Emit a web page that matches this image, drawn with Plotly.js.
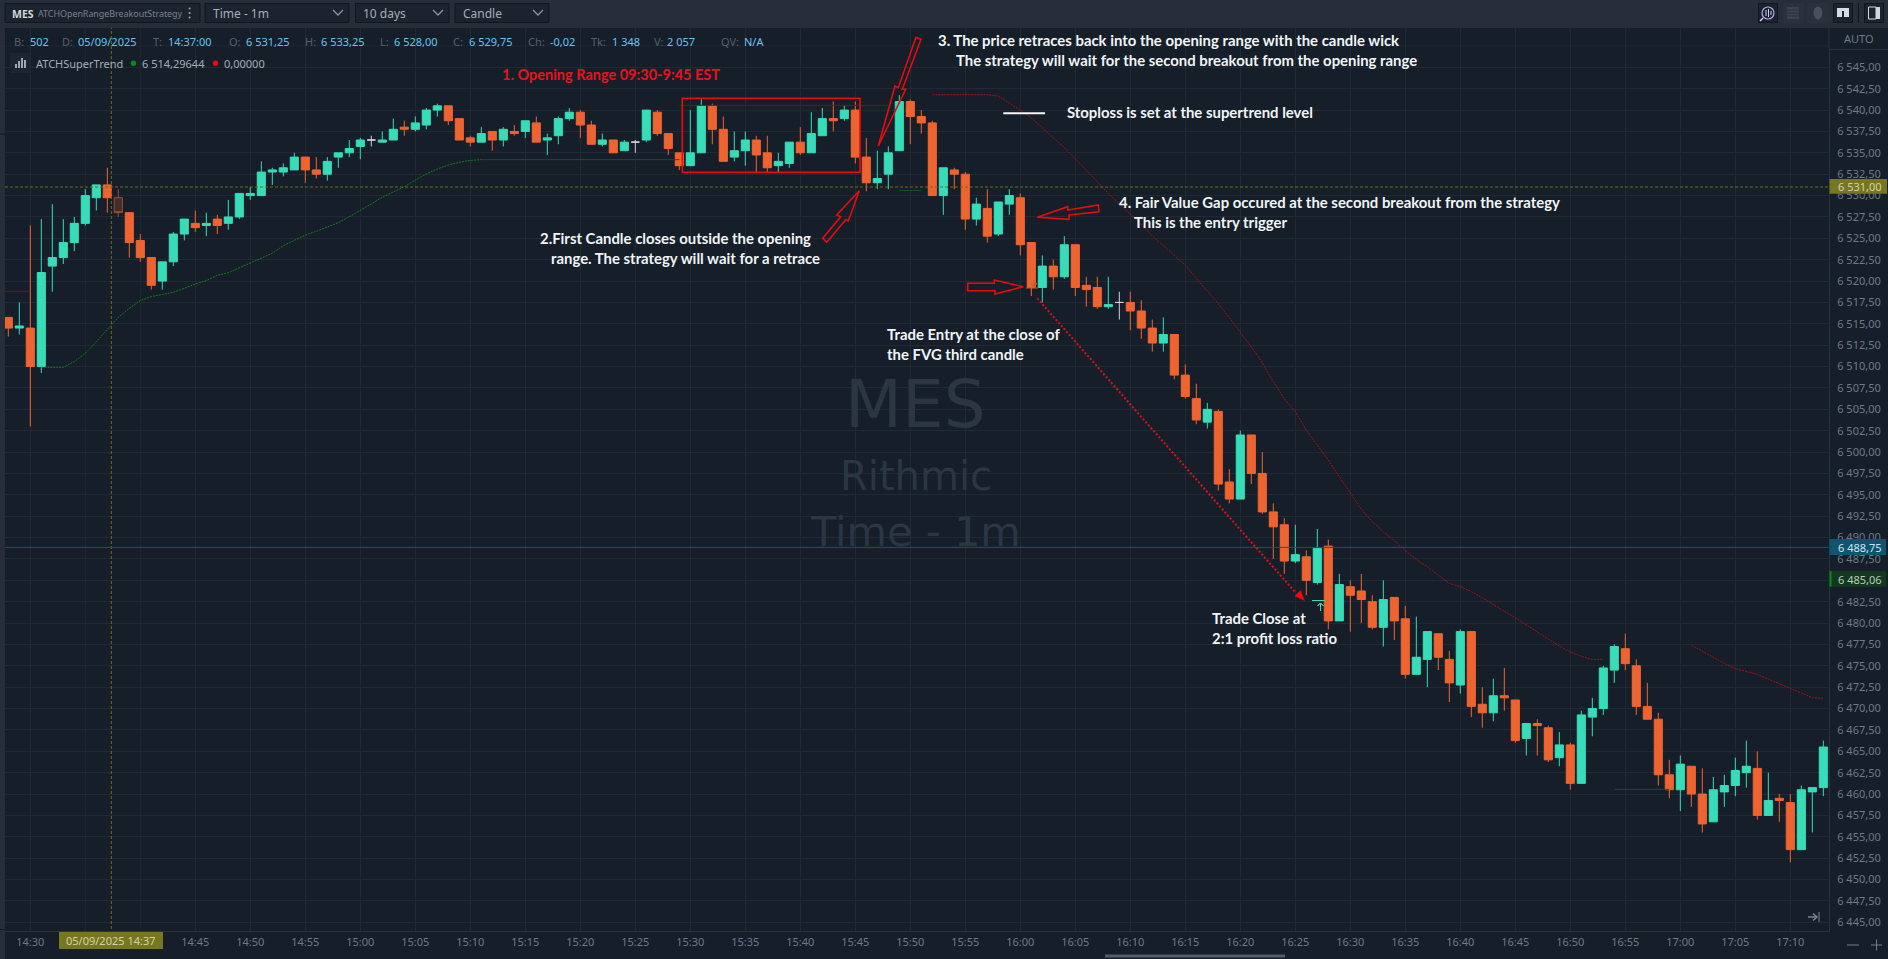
<!DOCTYPE html>
<html>
<head>
<meta charset="utf-8">
<title>MES ATCHOpenRangeBreakoutStrategy</title>
<script src="https://cdn.plot.ly/plotly-3.0.1.min.js"></script>
<style>html,body{margin:0;padding:0;background:#151e29;overflow:hidden}#chart{width:1888px;height:959px}</style>
</head>
<body>
<div id="chart"></div>
<script>
const sessionDate = '2025-05-09';
const candleTimes = ['14:28','14:29','14:30','14:31','14:32','14:33','14:34','14:35','14:36','14:37','14:38','14:39','14:40','14:41','14:42','14:43','14:44','14:45','14:46','14:47','14:48','14:49','14:50','14:51','14:52','14:53','14:54','14:55','14:56','14:57','14:58','14:59','15:00','15:01','15:02','15:03','15:04','15:05','15:06','15:07','15:08','15:09','15:10','15:11','15:12','15:13','15:14','15:15','15:16','15:17','15:18','15:19','15:20','15:21','15:22','15:23','15:24','15:25','15:26','15:27','15:28','15:29','15:30','15:31','15:32','15:33','15:34','15:35','15:36','15:37','15:38','15:39','15:40','15:41','15:42','15:43','15:44','15:45','15:46','15:47','15:48','15:49','15:50','15:51','15:52','15:53','15:54','15:55','15:56','15:57','15:58','15:59','16:00','16:01','16:02','16:03','16:04','16:05','16:06','16:07','16:08','16:09','16:10','16:11','16:12','16:13','16:14','16:15','16:16','16:17','16:18','16:19','16:20','16:21','16:22','16:23','16:24','16:25','16:26','16:27','16:28','16:29','16:30','16:31','16:32','16:33','16:34','16:35','16:36','16:37','16:38','16:39','16:40','16:41','16:42','16:43','16:44','16:45','16:46','16:47','16:48','16:49','16:50','16:51','16:52','16:53','16:54','16:55','16:56','16:57','16:58','16:59','17:00','17:01','17:02','17:03','17:04','17:05','17:06','17:07','17:08','17:09','17:10','17:11','17:12','17:13'];
const opens = [6515.75,6514.5,6514.5,6510,6521.75,6522.75,6524.5,6526.75,6529.75,6531.25,6529.75,6528,6524.75,6522.75,6520,6522.25,6525.5,6526.75,6526.5,6527.25,6526.75,6527.5,6530,6530,6532.75,6532.75,6533,6534.5,6533,6532.5,6534.5,6535,6535.75,6536.5,6536.25,6536.5,6538,6537.75,6538.25,6540,6540.5,6539,6536.75,6536.25,6537.5,6536.5,6537.5,6537.5,6538.5,6536.5,6537,6539,6539.75,6538.25,6536,6536.5,6535.25,6536.25,6536.5,6539.75,6537.25,6535,6533.5,6535,6540.5,6537.75,6534.5,6535.25,6536.5,6535,6533.5,6533.75,6536.25,6535,6537,6539,6539,6540,6534.5,6531.5,6532.5,6535.25,6541,6539.25,6538.5,6530,6533,6532.5,6527.25,6528.5,6525.5,6529,6529.75,6524.5,6519.25,6521.75,6520.5,6524.25,6519.5,6519.25,6517,6517.5,6517.5,6516.5,6514.5,6512.75,6513.75,6509,6506.25,6503.5,6504.75,6496.5,6494.5,6502,6497.5,6493,6491.5,6487.25,6487.75,6484.75,6489,6480.25,6484.25,6483.75,6482.5,6479.5,6483,6480.5,6474,6475.75,6478.75,6475.75,6472.75,6479,6470.5,6469.5,6471.5,6471,6466.5,6468.25,6467.75,6464.25,6465.75,6461.25,6469,6470,6474.5,6477,6475,6470.25,6468.75,6462.25,6460.5,6463.25,6460,6456.75,6460.25,6461,6462.5,6463,6457.5,6459.5,6459,6453.5,6460.25,6460.75];
const highs = [6515.75,6517.5,6526.5,6527.25,6529,6527.25,6527.5,6530.75,6531.25,6533.25,6530.75,6528,6525.5,6522.75,6522.25,6525.75,6527.25,6528.25,6528,6527.75,6529.5,6530.25,6531,6534,6533.25,6533.75,6535,6534.5,6534.5,6534.5,6535,6536.5,6536.75,6537,6537.5,6539,6538.75,6539.25,6540.25,6540.75,6540.5,6539,6537,6538,6537.5,6538,6538.25,6538.75,6539.25,6537.25,6539.25,6540.25,6540,6538.75,6537.25,6536.5,6536.5,6536.5,6540,6540,6537.25,6535,6540,6541.25,6540.75,6539.25,6537.5,6537.5,6537,6537,6535,6536.25,6538,6539.75,6540.25,6541,6540.5,6541,6536.75,6535.25,6535.75,6541.75,6541.25,6540,6538.75,6533.25,6533.25,6532.75,6529.75,6530.75,6529.25,6530.75,6530.25,6524.5,6523,6522.5,6525.25,6524.25,6520.5,6520.5,6520.5,6518.75,6518.75,6517.75,6515.5,6515.75,6513.75,6510.25,6508,6505.75,6505,6498,6502.5,6502,6500,6494,6492.25,6491.5,6488.5,6491,6489.75,6485.75,6485,6485.75,6483.25,6485,6483,6482,6480.75,6479,6478.75,6476.75,6479.25,6479,6472.5,6473.5,6474.75,6471,6468.25,6468.75,6468,6467.25,6466,6469.75,6471.25,6475,6477.5,6478.75,6475.75,6473,6469.5,6464,6464.5,6463.25,6463,6462,6462.25,6464.25,6466.25,6465,6462.5,6460,6460,6461,6460.75,6466.25];
const lows = [6513.5,6513.75,6503,6509.25,6518.75,6522,6523.5,6526.5,6528.25,6528,6527.5,6522.75,6522.25,6519,6519,6521.75,6524.75,6525.75,6525.25,6525.5,6526,6527.25,6529.5,6530,6531.25,6532.25,6533,6531.5,6532,6531.75,6533.25,6534.5,6534.25,6535.75,6536.25,6536.5,6537,6537.5,6537.75,6539.25,6538.25,6536.5,6535.75,6536.25,6535.25,6535.75,6537,6536.75,6536.25,6534.75,6536,6538.75,6536.75,6536,6535.75,6535,6535.25,6535,6536.25,6537,6534.75,6533,6533.5,6535,6536,6534,6534,6533.5,6532.75,6532.75,6532.75,6533.25,6534.75,6535,6537,6537.5,6538.75,6533.75,6530.5,6530.75,6530.75,6535.25,6536,6537.25,6530,6527.75,6530.75,6526,6526.5,6524.5,6525.25,6527.75,6523,6518.25,6517.5,6519,6520.25,6518.25,6517,6516.75,6516.75,6515.5,6514.25,6513.25,6511.75,6511.75,6508.5,6506.25,6503.25,6502.75,6495.5,6494,6494.5,6496.25,6492.75,6487.5,6485.75,6487,6483.25,6484.5,6479.25,6480.25,6479,6480,6479.25,6477.25,6478,6473.5,6474,6472.5,6474.5,6470.75,6471.75,6469,6467.75,6468.5,6469.75,6466,6464.5,6464.5,6463.75,6463.25,6460.5,6461.25,6466.75,6469.25,6473,6474.5,6469.25,6468.75,6461,6459.5,6458,6458.5,6455.5,6456.75,6458.5,6459.75,6460.75,6457,6457.5,6456.75,6452,6453.5,6455.5,6459.75];
const closes = [6514.5,6514.75,6510,6521,6522.75,6524.5,6526.75,6530,6531.25,6529.75,6528,6524.5,6522.75,6519.5,6522.25,6525.5,6527.25,6526.25,6526.75,6526.5,6527.5,6530.25,6530.25,6532.75,6533,6533.25,6534.5,6533,6532.5,6534,6535,6535.5,6536.5,6536.5,6536.5,6537.75,6537.75,6538.5,6540,6540.5,6538.75,6536.5,6536.25,6537.25,6536.5,6537.75,6537.25,6538.75,6536.25,6536.75,6539,6539.75,6538.25,6536,6536.5,6535,6536.25,6536.25,6540,6537.25,6535.5,6533.5,6535,6540.5,6537.75,6534,6535.25,6536.5,6534.75,6533.25,6534,6536.25,6535,6537.25,6539,6538.75,6540,6534.5,6531.5,6532,6535,6541,6539.25,6538.5,6530,6533.25,6532.5,6527.25,6529,6525.25,6529.25,6530,6524.25,6519.25,6521.75,6520.5,6524.25,6519.25,6519,6517,6517.25,6517.5,6516.5,6514.5,6512.75,6513.75,6509,6506.5,6503.75,6505,6496.25,6494.5,6502,6497.5,6493,6491.25,6487.25,6488,6485,6488.75,6480.25,6484.5,6483.25,6482.75,6479.5,6482.75,6480.25,6474,6476,6479,6476,6473,6479,6470.25,6469.5,6471.5,6471.25,6466.25,6468.25,6468,6464,6465.75,6461.25,6469.25,6470,6474.75,6477.25,6475.25,6470.25,6468.75,6462.25,6460.5,6463.5,6460,6456.5,6460.5,6461,6462.75,6463.25,6457.5,6459.25,6459.25,6453.5,6460.5,6460.75,6465.5];
const hollowCandles = ['14:38'];
const neutralCandles = ['15:01','15:25','16:09'];

const greenTrendTimes = ['14:31','14:33','14:34','14:35','14:36','14:37','14:38','14:39','14:40','14:41','14:42','14:43','14:44','14:45','14:46','14:47','14:48','14:49','14:50','14:51','14:52','14:53','14:54','14:55','14:56','14:57','14:58','14:59','15:00','15:01','15:02','15:03','15:04','15:05','15:06','15:07','15:08','15:09','15:10','15:11'];
const greenTrendValues = [6509.91,6509.91,6510.58,6511.55,6512.9,6514.28,6515.76,6516.8,6517.71,6518.18,6518.41,6518.69,6519.15,6519.66,6520.05,6520.67,6520.98,6521.57,6522.15,6522.66,6523.25,6524.14,6524.8,6525.39,6525.82,6526.29,6526.83,6527.53,6528.23,6529.02,6529.8,6530.46,6531.04,6531.82,6532.53,6533.11,6533.58,6533.89,6534.12,6534.2];
const greenFlatA = {t:['15:11','15:29'], v:[6534.2,6534.2]};
const greenFlatB = {t:['15:49','15:51'], v:[6530.6,6530.6]};
const greenFlatC = {t:['16:54','16:59'], v:[6460.55,6460.55]};
const redFlatA = {t:['14:27','14:30'], v:[6518.8,6518.8]};
const redFlatB = {t:['15:29','15:48'], v:[6540.55,6540.55]};
const redTrendTimes = ['15:52','15:57','15:58','15:59','16:00','16:01','16:02','16:03','16:04','16:05','16:06','16:07','16:08','16:09','16:10','16:11','16:12','16:13','16:14','16:15','16:16','16:17','16:18','16:19','16:20','16:21','16:22','16:23','16:24','16:25','16:26','16:27','16:28','16:29','16:30','16:31','16:32','16:33','16:34','16:35','16:36','16:37','16:38','16:39','16:40','16:41','16:42','16:43','16:44','16:45','16:46','16:47','16:48','16:49','16:50','16:51','16:52','16:53'];
const redTrendValues = [6541.8,6541.8,6541.64,6540.86,6540,6539.07,6537.94,6536.81,6535.6,6534.3,6532.91,6531.55,6530.26,6529,6527.84,6526.67,6525.27,6524.14,6523,6521.88,6520.32,6518.84,6517.36,6515.71,6514,6512.32,6510.45,6508.23,6506.24,6504.72,6502.57,6500.82,6499.07,6497.12,6495.17,6493.3,6491.85,6490.68,6489.63,6488.46,6487.45,6486.59,6485.62,6484.64,6484.25,6483.67,6482.96,6482.14,6481.37,6480.62,6479.77,6478.95,6478.13,6477.31,6476.6,6476.1,6475.75,6475.75];
const redLateTimes = ['17:01','17:02','17:03','17:04','17:05','17:06','17:07','17:08','17:09','17:10','17:11','17:12','17:13'];
const redLateValues = [6477.43,6476.69,6475.95,6475.28,6474.66,6474.31,6474,6473.45,6472.9,6472.36,6471.81,6471.27,6471.19];

const timeTicks = ['14:30','14:45','14:50','14:55','15:00','15:05','15:10','15:15','15:20','15:25','15:30','15:35','15:40','15:45','15:50','15:55','16:00','16:05','16:10','16:15','16:20','16:25','16:30','16:35','16:40','16:45','16:50','16:55','17:00','17:05','17:10'];
const hiddenTimeGrid = ['14:35','14:40'];
const priceTicks = [6445,6447.5,6450,6452.5,6455,6457.5,6460,6462.5,6465,6467.5,6470,6472.5,6475,6477.5,6480,6482.5,6485,6487.5,6490,6492.5,6495,6497.5,6500,6502.5,6505,6507.5,6510,6512.5,6515,6517.5,6520,6522.5,6525,6527.5,6530,6532.5,6535,6537.5,6540,6542.5,6545];
const hiddenPriceGrid = [6547.5];

const crosshairTime = '14:37:22';
const crosshairPrice = 6531;
const lastPriceLine = 6488.85;
const axisBadgeCross = '6 531,00', axisBadgeBlue = '6 488,75', axisBadgeGreen = '6 485,06', timeBadge = '05/09/2025 14:37';
const infoPairs = [['B:','502',13,29],['D:','05/09/2025',61,77],['T:','14:37:00',152,167],['O:','6 531,25',228,245],['H:','6 533,25',304,320],['L:','6 528,00',379,393],['C:','6 529,75',452,468],['Ch:','-0,02',527,549],['Tk:','1 348',590,611],['V:','2 057',653,666],['QV:','N/A',720,743]];

const notes = [
 ['1. Opening Range 09:30-9:45 EST',501,74.6,'#e8131a',14.5],
 ['3. The price retraces back into the opening range with the candle wick',937,40,'#f2f4f6',14.9],
 ['The strategy will wait for the second breakout from the opening range',955,60,'#f2f4f6',14.9],
 ['Stoploss is set at the supertrend level',1066,112,'#f2f4f6',14.9],
 ['2.First Candle closes outside the opening',539,238,'#f2f4f6',14.9],
 ['range. The strategy will wait for a retrace',550,258,'#f2f4f6',14.9],
 ['4. Fair Value Gap occured at the second breakout from the strategy',1118,202,'#f2f4f6',14.9],
 ['This is the entry trigger',1133,222,'#f2f4f6',14.9],
 ['Trade Entry at the close of',886,334,'#f2f4f6',14.9],
 ['the FVG third candle',886,354,'#f2f4f6',14.9],
 ['Trade Close at',1211,618,'#f2f4f6',14.9],
 ['2:1 profit loss ratio',1211,638,'#f2f4f6',14.9]
];

// page geometry (pixels)
const L = 5, R = 1829, T = 28, B = 931;
const X = p => (p - L) / (R - L);
const Y = p => 1 - (p - T) / (B - T);
const stamp = t => sessionDate + ' ' + t;
const GRID = '#1f2a35';
const chrome = [];
hiddenTimeGrid.forEach(t=>chrome.push({type:'line',xref:'x',yref:'paper',x0:stamp(t),x1:stamp(t),y0:0,y1:1,line:{color:GRID,width:1},layer:'below'}));
hiddenPriceGrid.forEach(v=>chrome.push({type:'line',xref:'paper',yref:'y',x0:0,x1:1,y0:v,y1:v,line:{color:GRID,width:1},layer:'below'}));
const rect = (x0,y0,x1,y1,fill,line,w) => chrome.push({type:'rect',xref:'paper',yref:'paper',x0:X(x0),x1:X(x1),y0:Y(y0),y1:Y(y1),fillcolor:fill,line:{color:line||fill,width:line?(w||1):0},layer:'above'});
const seg = (x0,y0,x1,y1,c,w,dash) => chrome.push({type:'line',xref:'paper',yref:'paper',x0:X(x0),x1:X(x1),y0:Y(y0),y1:Y(y1),line:{color:c,width:w||1,dash:dash||'solid'},layer:'above'});
const poly = (pts,c,w,fill) => chrome.push({type:'path',xref:'paper',yref:'paper',path:'M'+pts.map(p=>X(p[0])+','+Y(p[1])).join('L')+'Z',line:{color:c,width:w},fillcolor:fill||'rgba(0,0,0,0)',layer:'above'});
const txt = (text,x,y,color,size,opts) => Object.assign({text,x:X(x),y:Y(y),xref:'paper',yref:'paper',showarrow:false,xanchor:'left',yanchor:'middle',align:'left',borderpad:0,font:{family:'"Noto Sans",sans-serif',size:size||11,color}},opts||{});
const texts = [];

// toolbar and frame
rect(0,0,1888,28,'#272e39');
rect(0,28,5,959,'#272e39');
seg(0,134,5,134,'#10151c',1);
seg(0,929.5,5,929.5,'#10151c',1);
[[5,200],[205,349],[355.5,449],[455,549]].forEach(b=>rect(b[0],3.5,b[1],22.5,'#1c232e','#11161d'));
[338,438,538].forEach(c=>poly([[c-5,10],[c,15],[c+5,10],[c,15]],'#8c949e',1.3));
[8.5,13,17.5].forEach(y=>rect(188.7,y-0.9,190.5,y+0.9,'#9aa2ac'));
texts.push(txt('MES',11,13.5,'#d2d7dd',10.5,{font:{family:'"Noto Sans",sans-serif',size:10.5,color:'#d2d7dd',weight:700}}));
texts.push(txt('ATCHOpenRangeBreakoutStrategy',36.5,13.5,'#78818c',8.9));
texts.push(txt('Time - 1m',212,13,'#a6adb6',12));
texts.push(txt('10 days',362,13,'#a6adb6',12));
texts.push(txt('Candle',462,13,'#a6adb6',12));
// toolbar right icons
[[1758.5,1777.5,'#11161d'],[1783,1803,'#2b323d'],[1808,1828,'#2b323d'],[1833.5,1852.5,'#11161d'],[1864.5,1883.5,'#11161d']].forEach(b=>rect(b[0],3.5,b[1],22.5,b[2]==='#11161d'?'#1c232e':'#2a313c',b[2]));
chrome.push({type:'circle',xref:'paper',yref:'paper',x0:X(1762),x1:X(1774),y0:Y(7),y1:Y(19),line:{color:'#b7a6e8',width:1.2},fillcolor:'rgba(0,0,0,0)',layer:'above'});
seg(1763,18,1760,21,'#c9d4f0',1.5);
[[1766,10,16],[1768.5,9,17],[1771,11,15]].forEach(b=>seg(b[0],b[1],b[0],b[2],'#c9d4f0',1));
rect(1787,7,1799,19,'#3b434e');
[10,13,16].forEach(y=>seg(1787,y,1799,y,'#2a313c',1));
chrome.push({type:'circle',xref:'paper',yref:'paper',x0:X(1813.5),x1:X(1822.5),y0:Y(6.5),y1:Y(19.5),fillcolor:'#48505b',line:{width:0},layer:'above'});
rect(1837,8,1842,17,'#d4dbe3');rect(1842,8,1844,11,'#d4dbe3');rect(1844,8,1849,17,'#d4dbe3');
seg(1858.5,3,1858.5,23,'#10151c',1);
rect(1868.5,7,1876,19,'#1c232e','#cfd6de',1);rect(1876,7,1880,19,'#cfd6de');

// crosshair and last-price lines are drawn through the data axes
chrome.push({type:'line',xref:'x',yref:'paper',x0:stamp(crosshairTime),x1:stamp(crosshairTime),y0:Y(929),y1:1,line:{color:'#6d6d1c',width:1,dash:'3px,2px'},layer:'above'});
chrome.push({type:'line',xref:'paper',yref:'y',x0:0,x1:1,y0:crosshairPrice,y1:crosshairPrice,line:{color:'#6d6d1c',width:1,dash:'3px,2px'},layer:'above'});
chrome.push({type:'line',xref:'paper',yref:'y',x0:0,x1:1,y0:lastPriceLine,y1:lastPriceLine,line:{color:'#16566a',width:1},layer:'above'});

// annotation drawings
rect(682.3,98.3,860,172.3,'rgba(0,0,0,0)','#ee0a0a',1.6);
poly([[878.3,146],[895,86],[898.3,87.7],[916,37.3],[921,39.3],[902.3,89.3],[905.7,89.3]],'#e60c0c',1.6);
poly([[859.3,190.7],[836.7,215],[840.7,216.7],[822.7,238.3],[826.7,242.3],[846,219.3],[848.3,221]],'#e60c0c',1.6);
poly([[1037.3,217.3],[1067.7,206.7],[1067.7,210],[1098.3,205],[1099,211.7],[1069,215],[1069,219.3]],'#e60c0c',1.6);
poly([[1023.3,286.7],[994.3,280],[994.3,283.3],[967.7,283.3],[967.7,290.7],[995,290.7],[995,294]],'#e60c0c',1.6);
seg(1037.3,298.3,1295,592,'#e0101a',2,'2px,2px');
poly([[1304.5,600.5],[1295,596],[1300.5,590.5]],'#ee0a0a',0.5,'#ee0a0a');
seg(1003.3,113.3,1045,113.3,'#f4f6f8',2);
seg(1312,600.5,1325,600.5,'#37dcb8',1);
seg(1320.5,603,1320.5,611,'#37dcb8',1);
poly([[1317.5,606],[1320.5,603],[1323.5,606],[1320.5,603]],'#37dcb8',1);
seg(1034,280,1034,287,'#c85a28',1.2);
poly([[1031,283],[1034,287],[1037,283],[1034,287]],'#c85a28',1.2);
seg(1026,288,1038,288,'#c85a28',1);

// right axis furniture
rect(1829,28,1888,49,'#151e29');
seg(1829,49.5,1888,49.5,'#2a343f',1);
seg(1829,28,1829,49,'#2a343f',1);
texts.push(txt('AUTO',1858.5,38.5,'#6f7a87',11,{xanchor:'center'}));
rect(1829.5,179,1887,193.7,'#77771f');
texts.push(txt(axisBadgeCross,1837,186.4,'#d2d3a8',11));
rect(1829.5,539,1886,555,'#0f5570');
texts.push(txt(axisBadgeBlue,1837,547,'#cfe4ee',11));
rect(1829.5,571,1886,586.7,'#14381f');
rect(1829.5,571,1831.5,586.7,'#0d8a12');
texts.push(txt(axisBadgeGreen,1837,579,'#b4cdb9',11));
rect(59,932,163,949,'#77771f');
texts.push(txt(timeBadge,111,941,'#d2d3a8',11,{xanchor:'center'}));
// zoom controls and scrollbar
seg(1847,945,1859,945,'#6f7a87',1);
seg(1871,945,1882,945,'#6f7a87',1);
seg(1876.5,939.5,1876.5,950.5,'#6f7a87',1);
seg(1808,917,1817,917,'#7b8591',1.5);
poly([[1813,913.5],[1817,917],[1813,920.5],[1817,917]],'#7b8591',1.5);
seg(1819,912,1819,922,'#7b8591',1);
rect(1105,954.5,1285,957.5,'#545c67');

// info line
infoPairs.forEach(p=>{texts.push(txt(p[0],p[2],41.3,'#55606c',11));texts.push(txt(p[1],p[3],41.3,'#63c6ee',11));});
rect(10,53,30,73,'#1c2530');
[[16,64,68],[19,61,68],[22,58,68],[25,60,68]].forEach(b=>seg(b[0],b[1],b[0],b[2],'#aeb6bf',1.8));
texts.push(txt('ATCHSuperTrend',35,63.3,'#a6adb6',11));
chrome.push({type:'circle',xref:'paper',yref:'paper',x0:X(130.8),x1:X(136.2),y0:Y(60.6),y1:Y(66),fillcolor:'#0a8a14',line:{width:0},layer:'above'});
texts.push(txt('6 514,29644',141,63.3,'#a6adb6',11));
chrome.push({type:'circle',xref:'paper',yref:'paper',x0:X(212.8),x1:X(218.2),y0:Y(60.6),y1:Y(66),fillcolor:'#e60c12',line:{width:0},layer:'above'});
texts.push(txt('0,00000',223,63.3,'#a6adb6',11));

// watermark
const wm = (t,cy,s)=>txt(t,915.5,cy,'#2b3642',s,{xanchor:'center',font:{family:'"DejaVu Sans",sans-serif',size:s,color:'#2b3642'}});
texts.push(wm('MES',404,66),wm('Rithmic',476,40),wm('Time - 1m',531,41.5));

notes.forEach(n=>texts.push(txt(n[0],n[1],n[2],n[3],n[4],{font:{family:'Lato,sans-serif',size:n[4],color:n[3],weight:700}})));

// candles
const idx = candleTimes.map((t,i)=>i);
const pick = f => { const k = idx.filter(f); return {
  x:k.map(i=>stamp(candleTimes[i])), open:k.map(i=>opens[i]), high:k.map(i=>highs[i]), low:k.map(i=>lows[i]), close:k.map(i=>closes[i]) }; };
const UP = '#37dcb8', DOWN = '#ee6430';
const main = Object.assign(pick(i=>!hollowCandles.includes(candleTimes[i])&&!neutralCandles.includes(candleTimes[i])),{
  type:'candlestick',name:'MES',line:{width:1},whiskerwidth:0,
  increasing:{line:{color:UP,width:1},fillcolor:UP},decreasing:{line:{color:DOWN,width:1},fillcolor:DOWN}});
const hollow = Object.assign(pick(i=>hollowCandles.includes(candleTimes[i])),{
  type:'candlestick',name:'Selected',whiskerwidth:0,
  increasing:{line:{color:'#a34b2d',width:1},fillcolor:'#3d2e30'},decreasing:{line:{color:'#a34b2d',width:1},fillcolor:'#3d2e30'}});
const neutral = Object.assign(pick(i=>neutralCandles.includes(candleTimes[i])),{
  type:'candlestick',name:'Doji',whiskerwidth:0,
  increasing:{line:{color:'#cfd3da',width:1},fillcolor:'#cfd3da'},decreasing:{line:{color:'#cfd3da',width:1},fillcolor:'#cfd3da'}});
const trend = (t,v,c,dash) => ({type:'scatter',mode:'lines',x:t.map(stamp),y:v,line:{color:c,width:1,dash:dash},hoverinfo:'skip'});
const GREEN='#127a1e', RED='#a81218';
const traces = [
  trend(greenTrendTimes,greenTrendValues,GREEN,'2px,1px'),
  trend(greenFlatA.t,greenFlatA.v,'#0f5a1c','solid'),
  trend(greenFlatB.t,greenFlatB.v,'#0f5a1c','solid'),
  trend(greenFlatC.t,greenFlatC.v,'#0f5a1c','solid'),
  trend(redFlatA.t,redFlatA.v,'#7a1218','solid'),
  trend(redFlatB.t,redFlatB.v,'#7a1218','solid'),
  trend(redTrendTimes,redTrendValues,RED,'2px,1px'),
  trend(redLateTimes,redLateValues,RED,'2px,1px'),
  main,hollow,neutral
];

const layout = {
  width:1888,height:959,autosize:false,showlegend:false,hovermode:false,
  margin:{l:L,r:1888-R,t:T,b:959-B,pad:0},
  paper_bgcolor:'#151e29',plot_bgcolor:'#151e29',
  separators:', ',boxgap:0.1,boxgroupgap:0.18,
  font:{family:'"Noto Sans",sans-serif',size:11,color:'#6f7a87'},
  xaxis:{type:'date',range:[stamp('14:27:42'),stamp('17:13:31')],tickmode:'array',tickvals:timeTicks.map(stamp),ticktext:timeTicks,
    showgrid:true,gridcolor:GRID,gridwidth:1,zeroline:false,showline:true,linecolor:'#2a343f',linewidth:1,
    ticks:'outside',ticklen:1,tickcolor:'rgba(0,0,0,0)',tickfont:{family:'"Noto Sans",sans-serif',size:11,color:'#6f7a87'},
    rangeslider:{visible:false},fixedrange:true},
  yaxis:{side:'right',range:[6443.98,6549.6],tickmode:'array',tickvals:priceTicks,tickformat:',.2f',
    showgrid:true,gridcolor:GRID,gridwidth:1,zeroline:false,showline:true,linecolor:'#2a343f',linewidth:1,
    ticks:'outside',ticklen:5,tickcolor:'rgba(0,0,0,0)',tickfont:{family:'"Noto Sans",sans-serif',size:11,color:'#6f7a87'},fixedrange:true},
  shapes:chrome,annotations:texts
};
Plotly.newPlot('chart',traces,layout,{displayModeBar:false,responsive:false});
</script>
</body>
</html>
